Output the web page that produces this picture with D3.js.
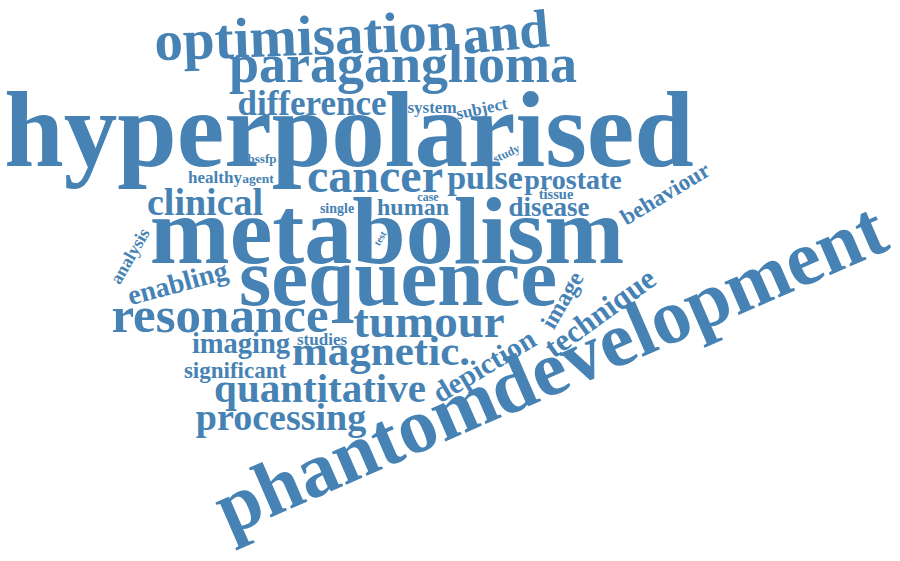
<!DOCTYPE html>
<html>
<head>
<meta charset="utf-8">
<script src="https://cdn.jsdelivr.net/npm/d3@7"></script>
<style>
html,body{margin:0;padding:0;background:#fff;}
svg{display:block;}
</style>
</head>
<body>
<svg id="chart" width="900" height="561"></svg>
<script>
// Words of the cloud and their relative weights (frequency)
const words = ["hyperpolarised","metabolism","phantom","development","sequence","optimisation","and",
  "paraganglioma","resonance","cancer","tumour","magnetic.","quantitative","processing","clinical",
  "difference","pulse","technique","depiction","image","enabling","imaging","prostate","disease",
  "behaviour","human","significant","analysis","system","subject","studies","healthy","tissue",
  "single","agent","bssfp","study","case","test"];
const weights = [107,96,78,78,83,57,54,54,51,48,47,43,41,38,38,35,34,31,29,24,28,28.5,28,27,
  23,24,23,18,17,17,17,17,14.5,14,13.5,13,12,12,10];
// Layout of the cloud (word-cloud placement: baseline centre in a 900x561 frame, rotation in degrees)
const placement = [
  [349,166,0],[387,263,0],[366,476,-23.5],[697,333,-23.5],[398,305,0],[307,55,-2],[507,50,-5],
  [403,82,0],[220,332,0],[375,192,0],[429,337,0],[381,365,0],[320,402,0],[281,430,0],[205,215,0],
  [312,115,0],[485,189,0],[606,321,-36],[489,374,-31],[569,304,-60],[180,292,-15],[241,353,0],[573,189,0],[549,216,0],
  [669,200,-31],[413,215,0],[235,378,0],[135,259,-60],[432,113,0],[483,114,-12],[322,345,0],[215,183,0],[556,199,0],
  [337,213,0],[258,183,0],[262,163,0],[508,157,-25],[428,201,0],[383,240,-60]
];

const W = 900, H = 561;
const svg = d3.select("#chart");
const x = d3.scaleLinear().domain([0, 900]).range([0, W]);
const y = d3.scaleLinear().domain([0, 561]).range([0, H]);
const size = d3.scaleLinear().domain([0, 107]).range([0, 107]);

const data = words.map((w, i) => ({text: w, weight: weights[i], pos: placement[i]}));

svg.append("g")
  .selectAll("text")
  .data(data)
  .join("text")
  .attr("text-anchor", "middle")
  .attr("transform", d => `translate(${x(d.pos[0])},${y(d.pos[1])}) rotate(${d.pos[2]})`)
  .style("font-family", "'Liberation Serif','Times New Roman',serif")
  .style("font-weight", "bold")
  .style("font-size", d => size(d.weight) + "px")
  .style("fill", "#4682b4")
  .text(d => d.text);
</script>
</body>
</html>
